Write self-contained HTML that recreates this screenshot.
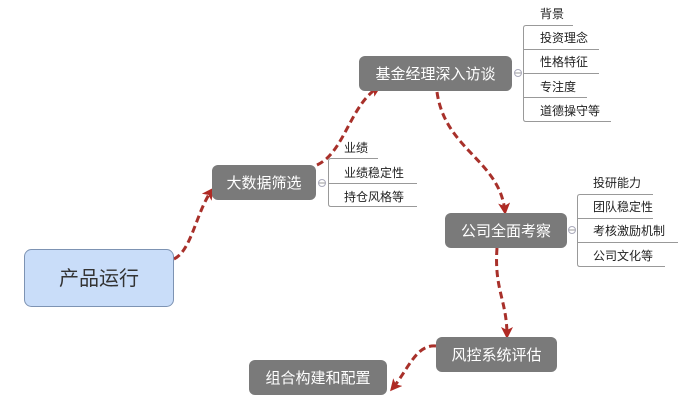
<!DOCTYPE html>
<html><head><meta charset="utf-8"><style>
html,body{margin:0;padding:0;background:#fff;}
svg{display:block;}
text{font-family:"Liberation Sans","Noto Sans CJK SC",sans-serif;}
</style></head><body>
<svg width="700" height="416" viewBox="0 0 700 416" xmlns="http://www.w3.org/2000/svg">
<defs>
<marker id="ar" markerWidth="12" markerHeight="12" refX="9" refY="6" orient="auto" markerUnits="userSpaceOnUse">
<path d="M0,0 L12,6 L0,12 L3,6 Z" fill="#b02a24"/>
</marker>
</defs>
<g fill="none" stroke="#a8302a" stroke-width="3" stroke-dasharray="7,4">
<path d="M174,259 C192,250 196,212 212,190" marker-end="url(#ar)"/>
<path d="M317,165 C345,152 350,104 379,87" marker-end="url(#ar)"/>
<path d="M437,92 C445,150 500,160 505,212" marker-end="url(#ar)"/>
<path d="M497,248 C494,290 507,300 507,336" marker-end="url(#ar)"/>
<path d="M436,346 C416,344 408,370 392,389" marker-end="url(#ar)"/>
</g>
<!-- nodes -->
<rect x="24.5" y="249.5" width="149" height="57" rx="7" fill="#c9ddf9" stroke="#7d93b3"/>
<text x="99" y="285" font-size="20" fill="#333" text-anchor="middle">产品运行</text>
<g fill="#7a7a7a">
<rect x="212" y="165" width="104" height="35" rx="6"/>
<rect x="359" y="56" width="153" height="35" rx="6"/>
<rect x="445" y="213" width="122" height="35" rx="6"/>
<rect x="436" y="337" width="121" height="35" rx="6"/>
<rect x="249" y="360" width="138" height="35" rx="6"/>
</g>
<g fill="#fff" font-size="15" text-anchor="middle">
<text x="264" y="188">大数据筛选</text>
<text x="435.5" y="79">基金经理深入访谈</text>
<text x="506" y="236">公司全面考察</text>
<text x="496.5" y="360">风控系统评估</text>
<text x="318" y="383">组合构建和配置</text>
</g>
<!-- collapse circles -->
<g fill="#fff" stroke="#aab" stroke-width="1">
<circle cx="322" cy="183" r="3.5"/><circle cx="518" cy="73" r="3.5"/><circle cx="572" cy="230" r="3.5"/>
</g>
<g stroke="#999" stroke-width="1" fill="none">
<path d="M319,183 H325 M515,73 H521 M569,230 H575"/>
<!-- bracket 1 -->
<path d="M378,158.5 H331 Q328.5,158.5 328.5,161 V204 Q328.5,206.5 331,206.5 H417"/>
<path d="M328.5,183.5 H417"/>
<!-- bracket 2 -->
<path d="M573,25.5 H526 Q523.5,25.5 523.5,28 V119 Q523.5,121.5 526,121.5 H611"/>
<path d="M523.5,49.5 H599 M523.5,73.5 H599 M523.5,97.5 H587"/>
<!-- bracket 3 -->
<path d="M653,194.5 H580 Q577.5,194.5 577.5,197 V264 Q577.5,266.5 580,266.5 H665"/>
<path d="M577.5,218.5 H653 M577.5,242.5 H678"/>
</g>
<g fill="#222" font-size="12">
<text x="344" y="152">业绩</text>
<text x="344" y="177">业绩稳定性</text>
<text x="344" y="201">持仓风格等</text>
<text x="540" y="18">背景</text>
<text x="540" y="42">投资理念</text>
<text x="540" y="66">性格特征</text>
<text x="540" y="91">专注度</text>
<text x="540" y="115">道德操守等</text>
<text x="593" y="187">投研能力</text>
<text x="593" y="211">团队稳定性</text>
<text x="593" y="235">考核激励机制</text>
<text x="593" y="260">公司文化等</text>
</g>
</svg>
</body></html>
